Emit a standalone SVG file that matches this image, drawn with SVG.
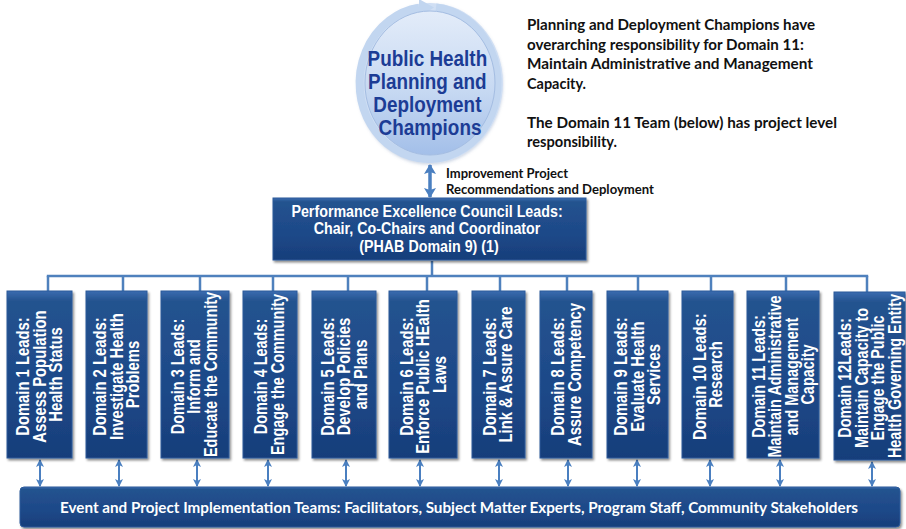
<svg xmlns="http://www.w3.org/2000/svg" width="906" height="529" viewBox="0 0 906 529">
  <defs>
    <linearGradient id="boxFill" x1="0" y1="0" x2="0" y2="1">
      <stop offset="0" stop-color="#3a6cb0"/>
      <stop offset="0.06" stop-color="#24538f"/>
      <stop offset="0.6" stop-color="#1d4888"/>
      <stop offset="1" stop-color="#173e7a"/>
    </linearGradient>
    <linearGradient id="diskFill" x1="0" y1="0" x2="0" y2="1">
      <stop offset="0" stop-color="#e3ecf9"/>
      <stop offset="0.55" stop-color="#c7d9f2"/>
      <stop offset="1" stop-color="#a3bfe9"/>
    </linearGradient>
    <filter id="shadow" x="-10%" y="-10%" width="130%" height="130%">
      <feDropShadow dx="1.5" dy="2" stdDeviation="1.2" flood-color="#000" flood-opacity="0.45"/>
    </filter>
    <filter id="softShadow" x="-10%" y="-10%" width="120%" height="120%">
      <feDropShadow dx="0" dy="1.5" stdDeviation="1.5" flood-color="#6a86b0" flood-opacity="0.35"/>
    </filter>
    <marker id="headSmall" viewBox="0 0 8 8" refX="7" refY="4" markerWidth="8" markerHeight="8" markerUnits="userSpaceOnUse" orient="auto-start-reverse">
      <path d="M0,0 L8,4 L0,8 L2,4 Z" fill="#4a7fc0"/>
    </marker>
    <marker id="headLarge" viewBox="0 0 10 12" refX="9" refY="6" markerWidth="10" markerHeight="12" markerUnits="userSpaceOnUse" orient="auto-start-reverse">
      <path d="M0,0 L10,6 L0,12 L2,6 Z" fill="#4a7fc0"/>
    </marker>
  </defs>
  <style>
    .box { fill: url(#boxFill); stroke: #2c5a9a; stroke-width: 1; filter: url(#shadow); }
    .wtxt { fill: #ffffff; font-family: "Liberation Sans", Arial, sans-serif; font-weight: bold; text-anchor: middle; }
    .dom { font-size: 18.5px; }
    .note { fill: #111111; font-family: Lato, "Open Sans", sans-serif; font-weight: bold; }
    .conn { stroke: #4f81bd; stroke-width: 2.5; fill: none; }
    .dbl { stroke: #4a7fc0; stroke-width: 2; fill: none; marker-start: url(#headSmall); marker-end: url(#headSmall); }
    .dblLarge { stroke: #4a7fc0; stroke-width: 3.5; fill: none; marker-start: url(#headLarge); marker-end: url(#headLarge); }
  </style>

  <rect width="906" height="529" fill="#ffffff"/>

  <!-- Champions circle with circular arrow ring -->
  <g id="champions">
    <ellipse cx="430" cy="83" rx="73" ry="80" fill="#d0dff4" filter="url(#softShadow)"/>
    <path d="M 436 7.5 A 69 76 0 1 1 419 7.8" fill="none" stroke="#c2d6f0" stroke-width="8"/>
    <path d="M 419 -1 L 434 7.5 L 419 17 Z" fill="#c2d6f0"/>
    <ellipse cx="430" cy="83" rx="65" ry="72" fill="url(#diskFill)" stroke="#a4bde2" stroke-width="1"/>
    <text class="wtxt" transform="translate(430,0) scale(0.84,1)" font-size="22.5" style="fill:#1c3c95">
      <tspan x="0" y="66">Public Health</tspan>
      <tspan x="0" y="89">Planning and</tspan>
      <tspan x="0" y="112">Deployment</tspan>
      <tspan x="0" y="135">Champions</tspan>
    </text>
  </g>

  <!-- Responsibility note -->
  <g id="note">
    <text class="note" font-size="14.5">
      <tspan x="527" y="30" textLength="288" lengthAdjust="spacingAndGlyphs">Planning and Deployment Champions have</tspan>
      <tspan x="527" y="49.5" textLength="277" lengthAdjust="spacingAndGlyphs">overarching responsibility for Domain 11:</tspan>
      <tspan x="527" y="69" textLength="286" lengthAdjust="spacingAndGlyphs">Maintain Administrative and Management</tspan>
      <tspan x="527" y="88.5" textLength="59" lengthAdjust="spacingAndGlyphs">Capacity.</tspan>
      <tspan x="527" y="127.5" textLength="310" lengthAdjust="spacingAndGlyphs">The Domain 11 Team (below) has project level</tspan>
      <tspan x="527" y="147" textLength="90" lengthAdjust="spacingAndGlyphs">responsibility.</tspan>
    </text>
  </g>

  <!-- Label beside the top double arrow -->
  <g id="deployment-label">
    <text class="note" font-size="12.5">
      <tspan x="446" y="177.5" textLength="122" lengthAdjust="spacingAndGlyphs">Improvement Project</tspan>
      <tspan x="446" y="194" textLength="208" lengthAdjust="spacingAndGlyphs">Recommendations and Deployment</tspan>
    </text>
  </g>

  <!-- Connectors -->
  <g id="connectors">
    <line class="dblLarge" x1="430" y1="165" x2="430" y2="197"/>
    <line class="conn" x1="432" y1="261" x2="432" y2="276"/>
    <line class="conn" x1="46.8" y1="276" x2="868.2" y2="276"/>
    <path class="conn" d="M48 276V291 M123 276V291 M200 276V291 M273 276V291 M348 276V291 M427 276V291 M500 276V291 M567 276V291 M638 276V291 M711 276V291 M786 276V291 M867 276V292"/>
    <line class="dbl" x1="40" y1="460" x2="40" y2="486"/>
    <line class="dbl" x1="119" y1="460" x2="119" y2="486"/>
    <line class="dbl" x1="197" y1="460" x2="197" y2="486"/>
    <line class="dbl" x1="268" y1="460" x2="268" y2="486"/>
    <line class="dbl" x1="346" y1="460" x2="346" y2="486"/>
    <line class="dbl" x1="420" y1="460" x2="420" y2="486"/>
    <line class="dbl" x1="499" y1="460" x2="499" y2="486"/>
    <line class="dbl" x1="568" y1="460" x2="568" y2="486"/>
    <line class="dbl" x1="637" y1="460" x2="637" y2="486"/>
    <line class="dbl" x1="710" y1="460" x2="710" y2="486"/>
    <line class="dbl" x1="780" y1="460" x2="780" y2="486"/>
    <line class="dbl" x1="872" y1="462" x2="872" y2="486"/>
  </g>

  <!-- Council -->
  <g id="council">
    <rect class="box" x="273" y="198" width="313" height="62"/>
    <text class="wtxt" transform="translate(429,0) scale(0.84,1)" font-size="17">
      <tspan x="0" y="217">Performance Excellence Council Leads:</tspan>
      <tspan x="0" y="234.5">Chair, Co-Chairs and Coordinator</tspan>
      <tspan x="0" y="252">(PHAB Domain 9) (1)</tspan>
    </text>
  </g>

  <!-- Domain lead boxes -->
  <g id="domain1">
    <rect class="box" x="7" y="291" width="65" height="167"/>
    <text class="wtxt dom" transform="translate(39.5,374.5) rotate(-90) scale(0.8,1)">
      <tspan x="0" y="-10.2">Domain 1 Leads:</tspan>
      <tspan x="0" y="6.3">Assess Population</tspan>
      <tspan x="0" y="22.8">Health Status</tspan>
    </text>
  </g>
  <g id="domain2">
    <rect class="box" x="86" y="291" width="61" height="167"/>
    <text class="wtxt dom" transform="translate(116.5,374.5) rotate(-90) scale(0.8,1)">
      <tspan x="0" y="-10.2">Domain 2 Leads:</tspan>
      <tspan x="0" y="6.3">Investigate Health</tspan>
      <tspan x="0" y="22.8">Problems</tspan>
    </text>
  </g>
  <g id="domain3">
    <rect class="box" x="161" y="291" width="68" height="167"/>
    <text class="wtxt dom" transform="translate(194,374.5) rotate(-90) scale(0.78,1)">
      <tspan x="0" y="-10.2">Domain 3 Leads:</tspan>
      <tspan x="0" y="6.3">Inform and</tspan>
      <tspan x="0" y="22.8">Educate the Community</tspan>
    </text>
  </g>
  <g id="domain4">
    <rect class="box" x="243" y="291" width="54" height="167"/>
    <text class="wtxt dom" transform="translate(269,374.5) rotate(-90) scale(0.78,1)">
      <tspan x="0" y="-1.95">Domain 4 Leads:</tspan>
      <tspan x="0" y="14.55">Engage the Community</tspan>
    </text>
  </g>
  <g id="domain5">
    <rect class="box" x="312" y="291" width="64" height="167"/>
    <text class="wtxt dom" transform="translate(344,374.5) rotate(-90) scale(0.8,1)">
      <tspan x="0" y="-10.2">Domain 5 Leads:</tspan>
      <tspan x="0" y="6.3">Develop Policies</tspan>
      <tspan x="0" y="22.8">and Plans</tspan>
    </text>
  </g>
  <g id="domain6">
    <rect class="box" x="389" y="291" width="68" height="167"/>
    <text class="wtxt dom" transform="translate(423,374.5) rotate(-90) scale(0.8,1)">
      <tspan x="0" y="-10.2">Domain 6 Leads:</tspan>
      <tspan x="0" y="6.3">Enforce Public HEalth</tspan>
      <tspan x="0" y="22.8">Laws</tspan>
    </text>
  </g>
  <g id="domain7">
    <rect class="box" x="472" y="291" width="53" height="167"/>
    <text class="wtxt dom" transform="translate(497.5,374.5) rotate(-90) scale(0.8,1)">
      <tspan x="0" y="-1.95">Domain 7 Leads:</tspan>
      <tspan x="0" y="14.55">Link &amp; Assure Care</tspan>
    </text>
  </g>
  <g id="domain8">
    <rect class="box" x="540" y="291" width="52" height="167"/>
    <text class="wtxt dom" transform="translate(566,374.5) rotate(-90) scale(0.8,1)">
      <tspan x="0" y="-1.95">Domain 8 Leads:</tspan>
      <tspan x="0" y="14.55">Assure Competency</tspan>
    </text>
  </g>
  <g id="domain9">
    <rect class="box" x="607" y="291" width="61" height="167"/>
    <text class="wtxt dom" transform="translate(637.5,374.5) rotate(-90) scale(0.8,1)">
      <tspan x="0" y="-10.2">Domain 9 Leads:</tspan>
      <tspan x="0" y="6.3">Evaluate Health</tspan>
      <tspan x="0" y="22.8">Services</tspan>
    </text>
  </g>
  <g id="domain10">
    <rect class="box" x="682" y="291" width="51" height="167"/>
    <text class="wtxt dom" transform="translate(707.5,374.5) rotate(-90) scale(0.8,1)">
      <tspan x="0" y="-1.95">Domain 10 Leads:</tspan>
      <tspan x="0" y="14.55">Research</tspan>
    </text>
  </g>
  <g id="domain11">
    <rect class="box" x="747" y="291" width="72" height="167"/>
    <text class="wtxt dom" transform="translate(783,374.5) rotate(-90) scale(0.78,1)">
      <tspan x="0" y="-18.45">Domain 11 Leads:</tspan>
      <tspan x="0" y="-1.95">Maintain Administrative</tspan>
      <tspan x="0" y="14.55">and Management</tspan>
      <tspan x="0" y="31.05">Capacity</tspan>
    </text>
  </g>
  <g id="domain12">
    <rect class="box" x="834" y="292" width="71" height="168"/>
    <text class="wtxt dom" transform="translate(869.5,376) rotate(-90) scale(0.78,1)">
      <tspan x="0" y="-18.45">Domain 12Leads:</tspan>
      <tspan x="0" y="-1.95">Maintain Capacity to</tspan>
      <tspan x="0" y="14.55">Engage the Public</tspan>
      <tspan x="0" y="31.05">Health Governing Entity</tspan>
    </text>
  </g>

  <!-- Implementation teams bar -->
  <g id="teams">
    <rect class="box" x="20" y="487" width="880" height="40" rx="4"/>
    <text fill="#ffffff" font-family="Lato, 'Open Sans', sans-serif" font-weight="bold" font-size="15.5" x="60" y="513" textLength="798" lengthAdjust="spacingAndGlyphs">Event and Project Implementation Teams: Facilitators, Subject Matter Experts, Program Staff, Community Stakeholders</text>
  </g>
</svg>
